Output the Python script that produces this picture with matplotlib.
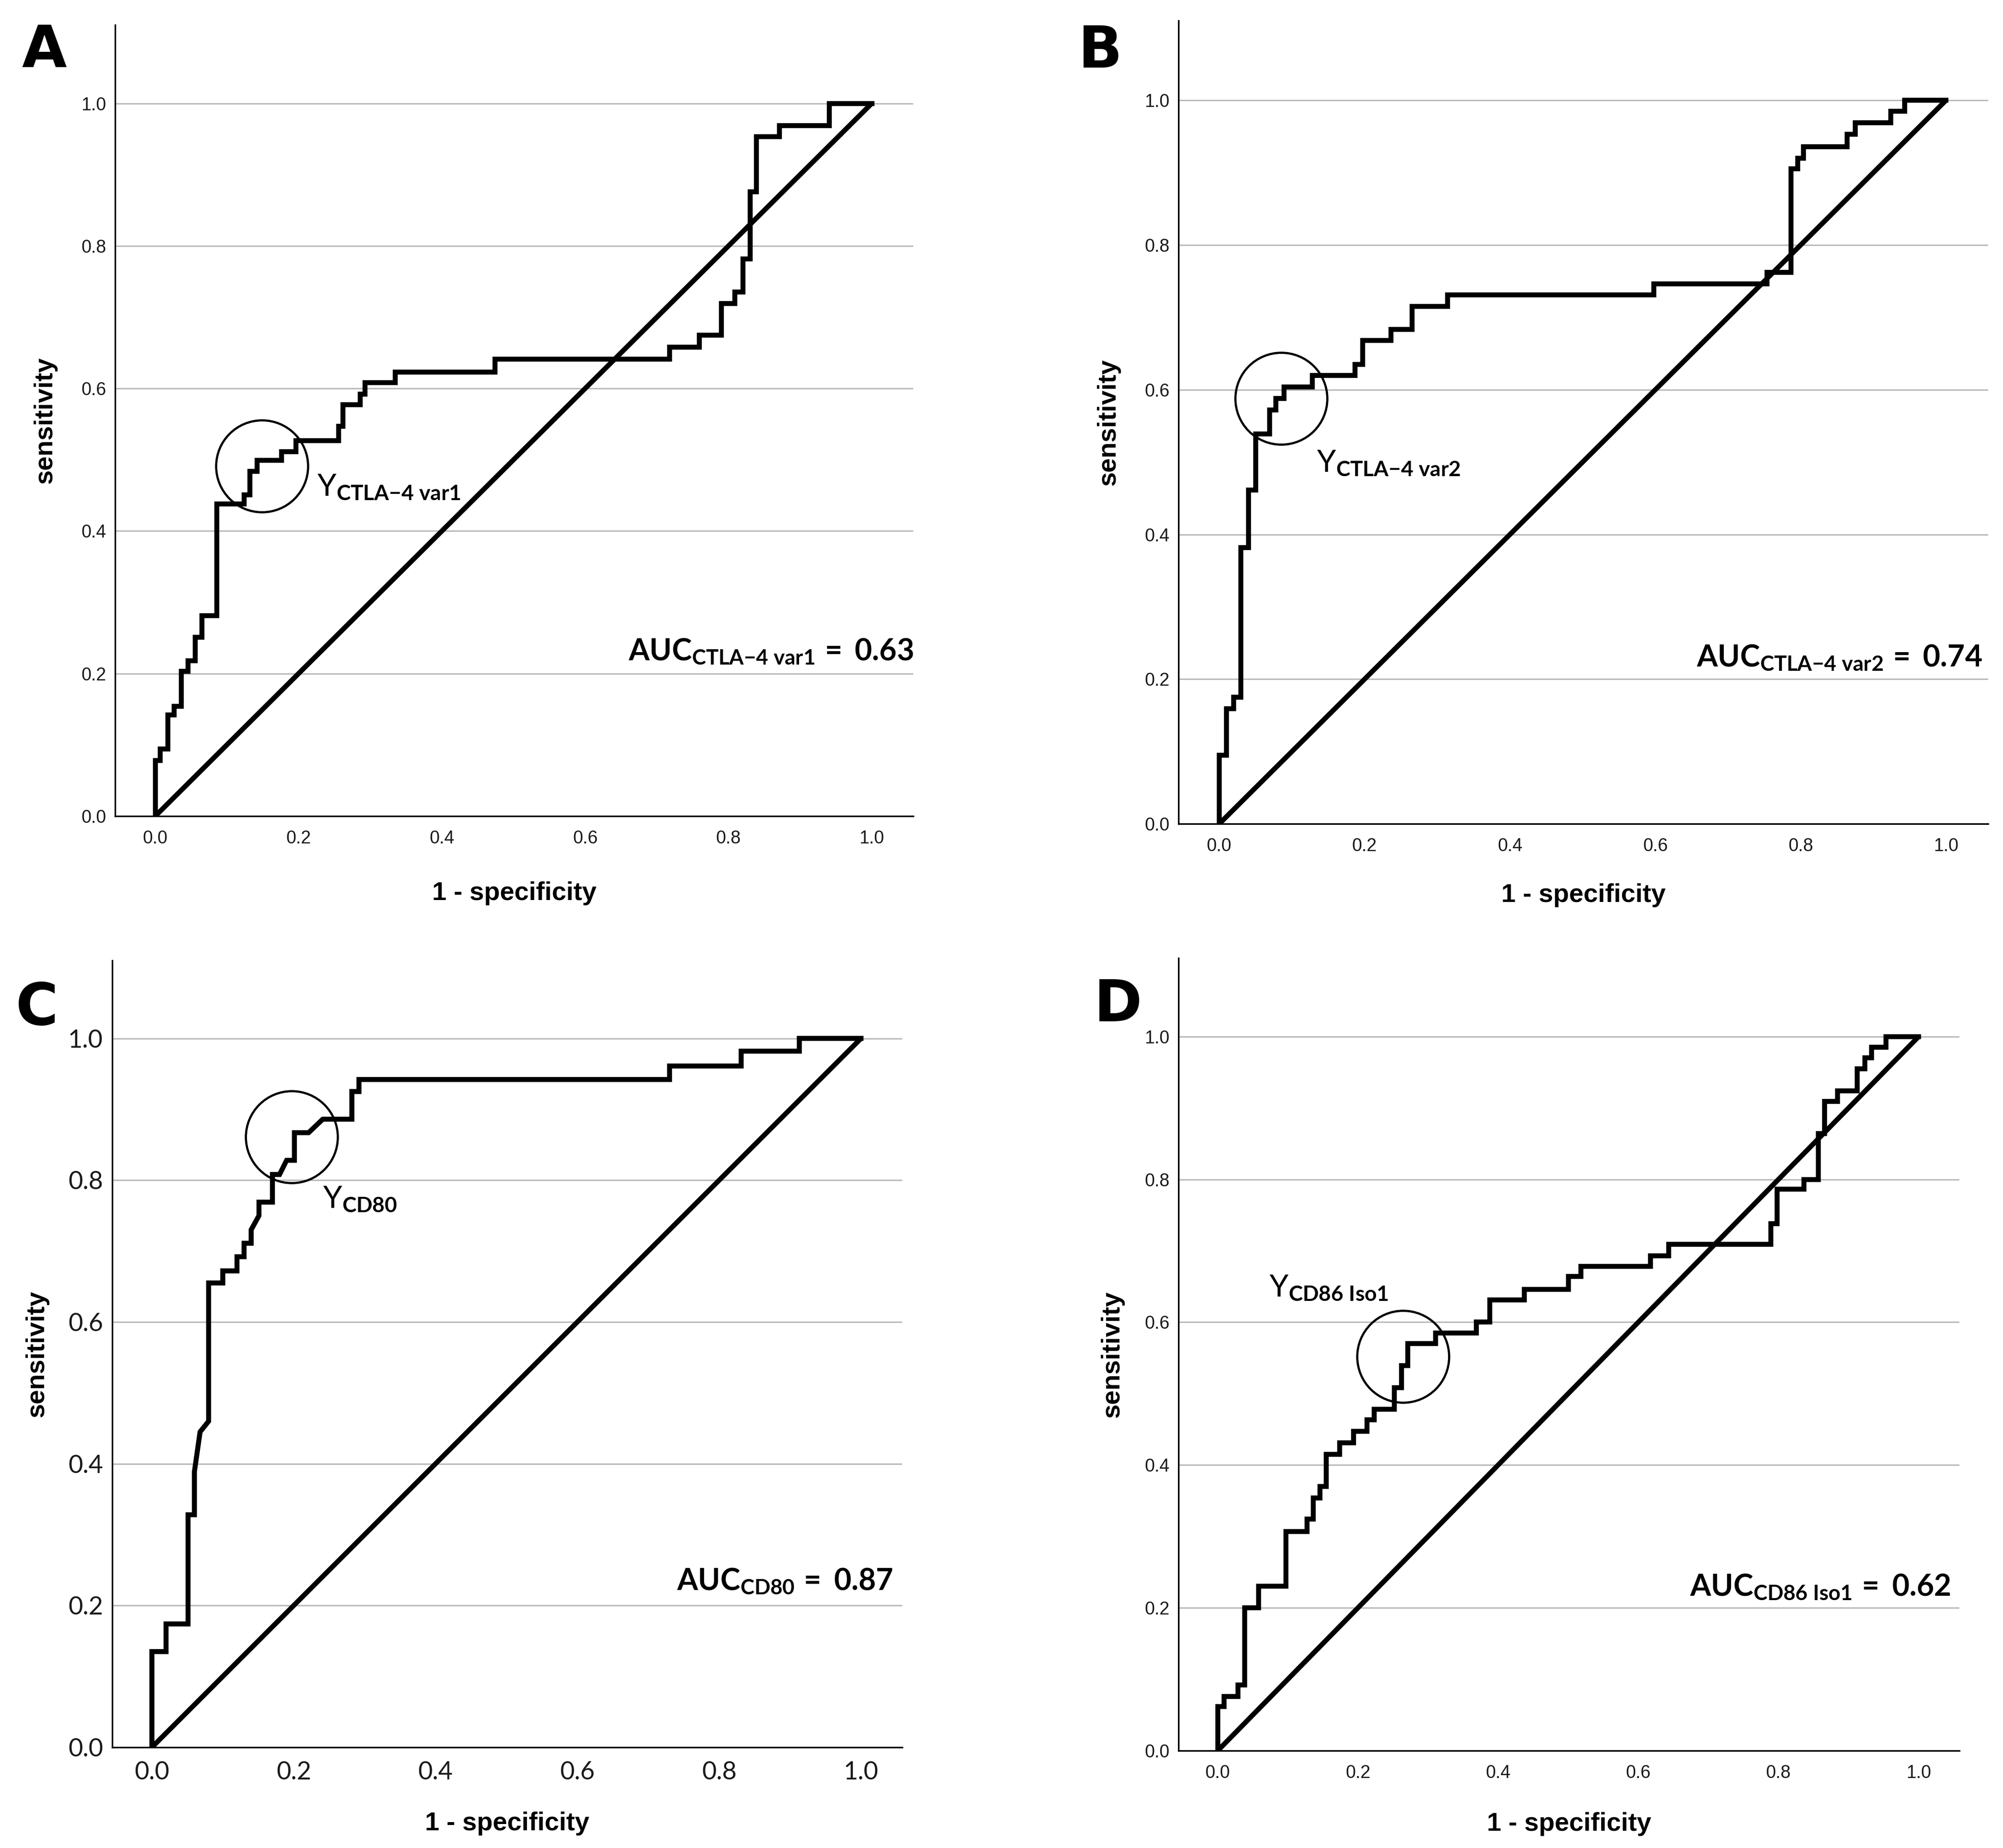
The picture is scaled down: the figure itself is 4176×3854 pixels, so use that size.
import matplotlib
matplotlib.use("Agg")
import matplotlib.pyplot as plt

plt.rcParams['font.family'] = ['Liberation Sans', 'DejaVu Sans']
plt.rcParams['mathtext.fontset'] = 'custom'
plt.rcParams['mathtext.rm'] = 'Lato'
plt.rcParams['mathtext.bf'] = 'Lato:bold'
plt.rcParams['mathtext.it'] = 'Lato:italic'

# ROC curves
# A: riser x positions and the level reached after each riser (step curve)
x_a = [0.0, 0.007, 0.0175, 0.026, 0.036, 0.046, 0.056, 0.065, 0.086, 0.124,
       0.132, 0.142, 0.176, 0.196, 0.256, 0.262, 0.286, 0.293, 0.335, 0.474,
       0.718, 0.759, 0.790, 0.809, 0.820, 0.830, 0.839, 0.871, 0.941, 1.0]
y_a = [0.0, 0.078, 0.094, 0.142, 0.154, 0.203, 0.218, 0.251, 0.281, 0.438,
       0.451, 0.484, 0.499, 0.511, 0.527, 0.547, 0.577, 0.592, 0.608, 0.623,
       0.641, 0.658, 0.675, 0.719, 0.735, 0.782, 0.876, 0.953, 0.969, 1.0]

# B
x_b = [0.0, 0.010, 0.020, 0.030, 0.040, 0.050, 0.069, 0.078, 0.089, 0.128,
       0.187, 0.197, 0.236, 0.265, 0.314, 0.598, 0.754, 0.787, 0.796, 0.804,
       0.864, 0.875, 0.924, 0.943, 1.0]
y_b = [0.0, 0.095, 0.159, 0.175, 0.382, 0.461, 0.539, 0.572, 0.588, 0.604,
       0.620, 0.635, 0.668, 0.683, 0.715, 0.731, 0.746, 0.762, 0.905, 0.920,
       0.936, 0.953, 0.969, 0.985, 1.0]

# C has a few sloped pieces (ties), so plain vertices
x_c = [0.0, 0.0, 0.020, 0.020, 0.051, 0.051, 0.060, 0.060, 0.068, 0.080,
       0.080, 0.100, 0.100, 0.120, 0.120, 0.130, 0.130, 0.140, 0.140, 0.151,
       0.151, 0.170, 0.170, 0.180, 0.190, 0.201, 0.201, 0.221, 0.241, 0.282,
       0.282, 0.292, 0.292, 0.730, 0.730, 0.831, 0.831, 0.913, 0.913, 1.0]
y_c = [0.0, 0.135, 0.135, 0.174, 0.174, 0.328, 0.328, 0.389, 0.445, 0.460,
       0.655, 0.655, 0.672, 0.672, 0.692, 0.692, 0.711, 0.711, 0.730, 0.750,
       0.769, 0.769, 0.808, 0.808, 0.828, 0.828, 0.867, 0.867, 0.886, 0.886,
       0.925, 0.925, 0.942, 0.942, 0.961, 0.961, 0.982, 0.982, 1.0, 1.0]

# D
x_d = [0.0, 0.009, 0.029, 0.038, 0.058, 0.097, 0.127, 0.136, 0.146, 0.155,
       0.174, 0.194, 0.213, 0.223, 0.252, 0.262, 0.271, 0.311, 0.369, 0.388,
       0.437, 0.500, 0.518, 0.617, 0.643, 0.789, 0.798, 0.836, 0.857, 0.866,
       0.884, 0.912, 0.923, 0.933, 0.953, 1.0]
y_d = [0.0, 0.062, 0.076, 0.092, 0.200, 0.230, 0.307, 0.324, 0.354, 0.370,
       0.415, 0.431, 0.447, 0.463, 0.478, 0.508, 0.539, 0.570, 0.585, 0.600,
       0.631, 0.646, 0.664, 0.678, 0.693, 0.709, 0.738, 0.786, 0.800, 0.864,
       0.909, 0.924, 0.955, 0.970, 0.985, 1.0]

panel_letters = ['A', 'B', 'C', 'D']
# mathtext pieces; {-} keeps the dash from getting operator spacing
cutoff_names = ['CTLA{-}4\\ var1', 'CTLA{-}4\\ var2', 'CD80', 'CD86\\ Iso1']
auc_values = ['0.63', '0.74', '0.87', '0.62']
# circled cut-off points
cut_x = [0.149, 0.085, 0.197, 0.264]
cut_y = [0.491, 0.588, 0.861, 0.552]

fig = plt.figure(figsize=(13.92, 12.8467), dpi=300)

panels = [
    dict(rect=[0.0575, 0.5584, 0.3985, 0.4281], x=x_a, y=y_a, step=True,
         ylab_pad=12, xlab_pad=17, tick_font='Liberation Sans', tick_size=9,
         y_pos=(0.226, 0.450), auc_pos=(1.058, 0.219),
         letter_pos=(0.0108, 0.9637)),
    dict(rect=[0.5884, 0.5542, 0.4042, 0.4346], x=x_b, y=y_b, step=True,
         ylab_pad=12, xlab_pad=14, tick_font='Liberation Sans', tick_size=9,
         y_pos=(0.134, 0.487), auc_pos=(1.050, 0.218),
         letter_pos=(0.5383, 0.9634)),
    dict(rect=[0.0560, 0.0545, 0.3944, 0.4258], x=x_c, y=y_c, step=False,
         ylab_pad=9.5, xlab_pad=14, tick_font='Lato', tick_size=12.5,
         y_pos=(0.241, 0.761), auc_pos=(1.045, 0.222),
         letter_pos=(0.0079, 0.4455)),
    dict(rect=[0.5884, 0.0527, 0.3898, 0.4289], x=x_d, y=y_d, step=True,
         ylab_pad=10, xlab_pad=15, tick_font='Liberation Sans', tick_size=9,
         y_pos=(0.073, 0.636), auc_pos=(1.046, 0.217),
         letter_pos=(0.5462, 0.4473)),
]

ticks = [0.0, 0.2, 0.4, 0.6, 0.8, 1.0]

for i, p in enumerate(panels):
    ax = fig.add_axes(p['rect'])
    ax.set_xlim(-0.056, 1.058)
    ax.set_ylim(0, 1.11)

    # reference diagonal
    ax.plot([0, 1], [0, 1], color='black', lw=2.5, solid_capstyle='butt', zorder=3)
    if p['step']:
        ax.step(p['x'], p['y'], where='pre', color='black', lw=2.5,
                solid_joinstyle='miter', zorder=4)
    else:
        ax.plot(p['x'], p['y'], color='black', lw=2.5,
                solid_joinstyle='miter', zorder=4)

    # circle at the chosen cut-off
    ax.plot(cut_x[i], cut_y[i], 'o', ms=46, mfc='none', mec='black', mew=1.1,
            zorder=5, clip_on=False)

    ax.text(p['y_pos'][0], p['y_pos'][1],
            r'$\mathrm{Y}_{\mathbf{%s}}$' % cutoff_names[i],
            fontsize=15.2, ha='left', va='baseline')
    ax.text(p['auc_pos'][0], p['auc_pos'][1],
            r'$\mathbf{AUC}_{\mathbf{%s}}\mathbf{\,{=}\ %s}$' % (cutoff_names[i], auc_values[i]),
            fontsize=15, ha='right', va='baseline')

    ax.set_xticks(ticks)
    ax.set_yticks(ticks)
    ax.set_xticklabels(['%.1f' % t for t in ticks])
    ax.set_yticklabels(['%.1f' % t for t in ticks])
    for lab in ax.get_xticklabels() + ax.get_yticklabels():
        lab.set_fontfamily(p['tick_font'])
        lab.set_fontsize(p['tick_size'])
        lab.set_color('#1a1a1a')
    ax.tick_params(axis='both', length=0)
    ax.tick_params(axis='y', pad=4.5)
    ax.tick_params(axis='x', pad=7)

    ax.yaxis.grid(True, color='#b9b9b9', lw=0.7)
    ax.set_axisbelow(True)
    for s in ['top', 'right']:
        ax.spines[s].set_visible(False)
    for s in ['left', 'bottom']:
        ax.spines[s].set_linewidth(0.8)
        ax.spines[s].set_color('black')

    ax.set_xlabel('1 - specificity', fontsize=13, fontweight='bold', labelpad=p['xlab_pad'])
    ax.set_ylabel('sensitivity', fontsize=13, fontweight='bold', labelpad=p['ylab_pad'])

    fig.text(p['letter_pos'][0], p['letter_pos'][1], panel_letters[i],
             fontsize=29, fontweight='bold', family='DejaVu Sans',
             ha='left', va='baseline')

fig.savefig('out.png', dpi=300, facecolor='white')
